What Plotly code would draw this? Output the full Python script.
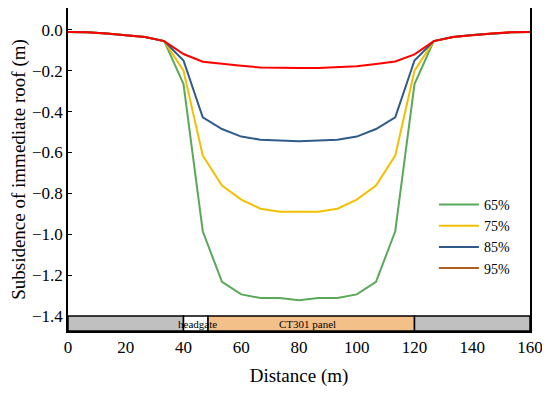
import plotly.graph_objects as go

distance = [0, 6.67, 13.33, 20, 26.67, 33.33, 40, 46.67, 53.33, 60, 66.67, 73.33, 80,
            86.67, 93.33, 100, 106.67, 113.33, 120, 126.67, 133.33, 140, 146.67, 153.33, 160]

s65 = [-0.01, -0.012, -0.018, -0.025, -0.035, -0.055, -0.265, -0.985, -1.233, -1.294, -1.312, -1.312, -1.322,
       -1.312, -1.312, -1.294, -1.233, -0.985, -0.265, -0.055, -0.035, -0.025, -0.018, -0.012, -0.01]
s75 = [-0.01, -0.012, -0.018, -0.025, -0.035, -0.055, -0.20, -0.615, -0.761, -0.83, -0.875, -0.89, -0.891,
       -0.89, -0.875, -0.83, -0.761, -0.615, -0.20, -0.055, -0.035, -0.025, -0.018, -0.012, -0.01]
s85 = [-0.01, -0.012, -0.018, -0.025, -0.035, -0.055, -0.15, -0.428, -0.485, -0.522, -0.537, -0.541, -0.545,
       -0.541, -0.537, -0.522, -0.485, -0.428, -0.15, -0.055, -0.035, -0.025, -0.018, -0.012, -0.01]
s95 = [-0.01, -0.012, -0.018, -0.025, -0.035, -0.055, -0.118, -0.156, -0.167, -0.176, -0.184, -0.187, -0.187,
       -0.187, -0.184, -0.178, -0.167, -0.155, -0.12, -0.055, -0.035, -0.025, -0.018, -0.012, -0.01]

series_names = ["65%", "75%", "85%", "95%"]
line_colors = ["#5aa85a", "#f2c000", "#2f5b8c", "#ff0000"]
legend_colors = ["#5aa85a", "#f2c000", "#2f5b8c", "#b06020"]

seg_start = [0, 40, 48.5, 120]
seg_end = [40, 48.5, 120, 160]
seg_fill = ["#c0c0c0", "#ffffff", "#f4c08a", "#c0c0c0"]
bar_top = -1.4
y_range = [-1.473, 0.107]

seg_labels = ["headgate", "CT301 panel"]
seg_label_x = [45, 83]

font = "Liberation Serif"

fig = go.Figure()
all_series = [s65, s75, s85, s95]
for name, ys, lc, gc in zip(series_names, all_series, line_colors, legend_colors):
    if lc == gc:
        fig.add_trace(go.Scatter(x=distance, y=ys, mode="lines", name=name,
                                 line=dict(color=lc, width=2)))
    else:
        fig.add_trace(go.Scatter(x=distance, y=ys, mode="lines", name=name,
                                 line=dict(color=lc, width=2), showlegend=False))
        fig.add_trace(go.Scatter(x=[None], y=[None], mode="lines", name=name,
                                 line=dict(color=gc, width=2)))

for x0, x1, fc in zip(seg_start, seg_end, seg_fill):
    fig.add_shape(type="rect", xref="x", yref="y", x0=x0, x1=x1, y0=y_range[0], y1=bar_top,
                  fillcolor=fc, line=dict(color="black", width=1.5), layer="above")

for t, xv in zip(seg_labels, seg_label_x):
    fig.add_annotation(x=xv, y=(bar_top + y_range[0]) / 2, xref="x", yref="y", text=t,
                       showarrow=False, font=dict(family=font, size=11, color="black"))

fig.update_layout(
    width=542, height=388,
    margin=dict(l=60, r=20, t=0, b=65, autoexpand=False),
    paper_bgcolor="white", plot_bgcolor="white",
    font=dict(family=font, size=17, color="black"),
    showlegend=True,
    legend=dict(x=0.792, y=0.44, xanchor="left", yanchor="top", bgcolor="rgba(0,0,0,0)",
                font=dict(family=font, size=14), tracegroupgap=0, itemwidth=40),
    xaxis=dict(range=[0, 160], tickvals=[0, 20, 40, 60, 80, 100, 120, 140, 160],
               showline=True, linecolor="black", linewidth=1.5, mirror=True,
               showgrid=False, zeroline=False, ticks="", automargin=False,
               title=dict(text="Distance (m)", font=dict(family=font, size=19), standoff=13)),
    yaxis=dict(range=y_range, tickvals=[-1.4, -1.2, -1.0, -0.8, -0.6, -0.4, -0.2, 0.0],
               tickformat=".1f", automargin=False,
               showline=True, linecolor="black", linewidth=1.5, mirror=True,
               showgrid=False, zeroline=False, ticks="inside", ticklen=4, tickcolor="black",
               title=dict(text="Subsidence of immediate roof (m)", font=dict(family=font, size=19), standoff=6)),
)

fig.write_html("out.html")
